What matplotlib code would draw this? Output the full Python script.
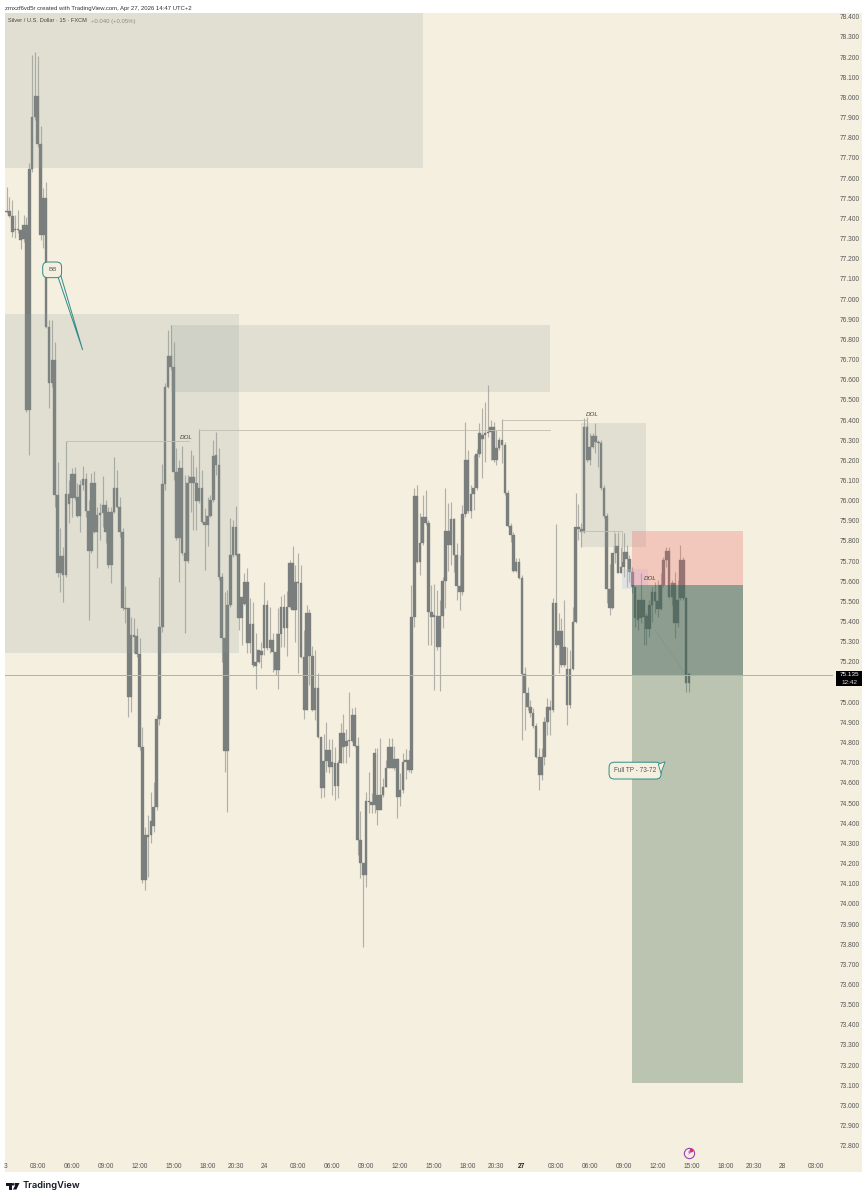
#!/usr/bin/env python3

import matplotlib
matplotlib.use("Agg")
import matplotlib.pyplot as plt
import numpy as np
from matplotlib.patches import Polygon, Rectangle

W, H = 868, 1200

BG = "#f5efe0"
BODY = "#7a7e7c"
WICK = "#b0b0a8"
THIN = "#c0bdb0"

# one value per 15 minute bar
wick_high = [
    77.557, 77.504, 77.491, 77.417, 77.442, 77.342, 77.417, 77.409, 77.673, 78.210, 78.227, 78.205,
    77.858, 77.550, 77.582, 76.896, 76.896, 76.789, 76.194, 75.863, 75.772, 76.296, 76.103, 76.161,
    76.169, 76.086, 76.103, 76.172, 76.136, 76.004, 76.136, 76.149, 75.970, 75.987, 76.122, 76.004,
    75.970, 75.970, 76.215, 76.152, 76.020, 75.863, 75.579, 75.466, 75.425, 75.417, 75.367, 75.317,
    74.879, 74.382, 74.441, 74.555, 74.605, 74.937, 75.622, 76.182, 76.582, 76.847, 76.871, 76.789,
    76.260, 76.202, 76.271, 76.128, 76.128, 76.251, 76.227, 76.169, 76.354, 76.152, 75.962, 76.020,
    76.028, 76.301, 76.339, 76.260, 75.640, 75.549, 75.557, 75.913, 75.904, 75.974, 75.739, 75.516,
    75.640, 75.665, 75.516, 75.499, 75.342, 75.260, 75.301, 75.598, 75.508, 75.475, 75.342, 75.342,
    75.466, 75.527, 75.537, 75.554, 75.706, 75.777, 75.681, 75.739, 75.681, 75.359, 75.483, 75.461,
    75.279, 75.260, 75.147, 74.830, 74.843, 74.904, 74.817, 74.817, 74.780, 74.714, 74.896, 74.942,
    74.866, 75.050, 74.970, 74.975, 74.830, 74.461, 74.202, 74.557, 74.656, 74.549, 74.772, 74.772,
    74.822, 74.623, 74.714, 74.822, 74.822, 74.784, 74.722, 74.648, 74.747, 74.767, 74.764, 75.582,
    76.061, 76.078, 75.937, 76.028, 76.053, 75.904, 75.582, 75.587, 75.557, 75.508, 75.623, 76.061,
    75.987, 75.995, 75.913, 75.789, 75.731, 75.979, 76.392, 76.251, 76.078, 76.227, 76.255, 76.384,
    76.458, 76.491, 76.574, 76.400, 76.392, 76.351, 76.318, 76.404, 76.293, 76.053, 75.888, 75.846,
    75.714, 75.714, 75.632, 75.177, 75.078, 75.012, 74.970, 74.896, 74.772, 74.772, 74.929, 75.020,
    75.012, 75.516, 75.884, 75.441, 75.417, 75.508, 75.276, 75.260, 75.475, 76.036, 75.984, 75.888,
    76.410, 76.417, 76.334, 76.334, 76.384, 76.301, 76.301, 76.078, 75.937, 75.684, 75.739, 75.838,
    75.846, 75.772, 75.838, 75.780, 75.731, 75.673, 75.574, 75.508, 75.640, 75.508, 75.441, 75.508,
    75.574, 75.598, 75.607, 75.640, 75.723, 75.772, 75.772, 75.607, 75.648, 75.607, 75.780, 75.723,
    75.524, 75.144,
]
body_top = [
    77.437, 77.437, 77.412, 77.349, 77.349, 77.342, 77.366, 77.366, 77.643, 77.901, 78.007, 78.007,
    77.769, 77.500, 77.500, 76.863, 76.698, 76.698, 76.028, 75.727, 75.727, 76.033, 76.033, 76.133,
    76.133, 76.017, 76.078, 76.106, 76.106, 75.950, 76.086, 76.086, 75.929, 75.937, 75.979, 75.979,
    75.946, 75.946, 76.061, 76.061, 75.970, 75.846, 75.466, 75.466, 75.334, 75.334, 75.329, 75.238,
    74.777, 74.342, 74.342, 74.412, 74.481, 74.917, 75.374, 76.083, 76.566, 76.718, 76.718, 76.661,
    76.144, 76.161, 76.161, 75.739, 76.086, 76.116, 76.116, 76.086, 76.065, 76.065, 75.896, 75.924,
    76.004, 76.223, 76.227, 76.177, 75.623, 75.317, 75.483, 75.731, 75.868, 75.868, 75.736, 75.520,
    75.595, 75.595, 75.389, 75.389, 75.202, 75.260, 75.256, 75.483, 75.483, 75.309, 75.309, 75.251,
    75.337, 75.471, 75.471, 75.471, 75.693, 75.693, 75.598, 75.598, 75.590, 75.223, 75.445, 75.445,
    75.232, 75.073, 75.073, 74.827, 74.709, 74.764, 74.764, 74.706, 74.698, 74.698, 74.850, 74.850,
    74.810, 74.813, 74.937, 74.937, 74.784, 74.317, 74.202, 74.511, 74.511, 74.504, 74.747, 74.541,
    74.541, 74.582, 74.676, 74.777, 74.777, 74.719, 74.719, 74.565, 74.703, 74.714, 74.714, 75.425,
    76.023, 76.023, 75.789, 75.921, 75.921, 75.888, 75.446, 75.433, 75.430, 75.430, 75.602, 75.850,
    75.850, 75.908, 75.908, 75.731, 75.577, 75.932, 76.202, 76.202, 76.032, 76.061, 76.232, 76.334,
    76.326, 76.334, 76.342, 76.364, 76.364, 76.260, 76.301, 76.301, 76.276, 76.036, 75.875, 75.830,
    75.694, 75.694, 75.618, 75.141, 75.045, 74.975, 74.946, 74.884, 74.731, 74.731, 74.901, 74.975,
    74.975, 75.491, 75.491, 75.355, 75.355, 75.276, 75.165, 75.165, 75.400, 75.871, 75.871, 75.860,
    76.367, 76.367, 76.268, 76.321, 76.321, 76.293, 76.288, 76.061, 75.924, 75.561, 75.739, 75.775,
    75.775, 75.673, 75.747, 75.747, 75.709, 75.648, 75.574, 75.508, 75.508, 75.508, 75.428, 75.483,
    75.549, 75.549, 75.504, 75.582, 75.706, 75.751, 75.751, 75.590, 75.590, 75.508, 75.706, 75.706,
    75.516, 75.141,
]
body_bottom = [
    77.432, 77.412, 77.334, 77.344, 77.342, 77.293, 77.296, 76.450, 76.450, 77.643, 77.901, 77.769,
    77.318, 77.318, 76.863, 76.582, 76.582, 76.028, 75.640, 75.640, 75.631, 75.631, 75.984, 76.012,
    76.012, 75.924, 75.924, 76.078, 75.950, 75.752, 75.752, 75.846, 75.846, 75.929, 75.937, 75.846,
    75.681, 75.681, 75.946, 75.970, 75.846, 75.466, 75.461, 75.028, 75.028, 75.326, 75.238, 74.777,
    74.119, 74.119, 74.332, 74.342, 74.387, 74.481, 74.917, 75.374, 76.083, 76.566, 76.661, 76.144,
    75.817, 75.817, 75.739, 75.703, 75.703, 76.086, 76.086, 76.000, 76.000, 75.896, 75.880, 75.880,
    75.924, 76.004, 76.177, 75.623, 75.317, 74.760, 74.760, 75.483, 75.731, 75.731, 75.417, 75.417,
    75.486, 75.296, 75.296, 75.183, 75.180, 75.202, 75.235, 75.268, 75.268, 75.268, 75.251, 75.160,
    75.160, 75.337, 75.370, 75.370, 75.474, 75.458, 75.458, 75.590, 75.223, 74.962, 74.962, 75.232,
    74.962, 74.962, 74.827, 74.574, 74.574, 74.709, 74.681, 74.681, 74.585, 74.585, 74.701, 74.780,
    74.784, 74.810, 74.810, 74.784, 74.317, 74.202, 74.141, 74.141, 74.504, 74.491, 74.491, 74.466,
    74.466, 74.541, 74.582, 74.676, 74.676, 74.676, 74.529, 74.529, 74.565, 74.703, 74.665, 74.665,
    75.425, 75.698, 75.698, 75.789, 75.888, 75.446, 75.422, 75.422, 75.276, 75.276, 75.430, 75.602,
    75.780, 75.780, 75.731, 75.577, 75.546, 75.546, 75.932, 75.949, 75.949, 76.032, 76.061, 76.232,
    76.304, 76.326, 76.334, 76.342, 76.202, 76.202, 76.260, 76.276, 76.036, 75.875, 75.830, 75.653,
    75.653, 75.618, 75.141, 75.045, 74.975, 74.946, 74.884, 74.731, 74.640, 74.640, 74.731, 74.901,
    74.962, 74.962, 75.284, 75.284, 75.185, 75.185, 74.987, 74.987, 75.165, 75.400, 75.860, 75.843,
    75.846, 76.202, 76.202, 76.268, 76.293, 76.288, 76.061, 75.924, 75.561, 75.466, 75.466, 75.739,
    75.643, 75.643, 75.673, 75.709, 75.648, 75.574, 75.417, 75.408, 75.417, 75.425, 75.364, 75.364,
    75.483, 75.504, 75.461, 75.461, 75.582, 75.706, 75.524, 75.524, 75.395, 75.395, 75.516, 75.516,
    75.094, 75.094,
]
wick_low = [
    77.425, 77.409, 77.309, 77.301, 77.326, 77.246, 77.285, 76.441, 76.227, 77.632, 77.888, 77.756,
    77.293, 77.252, 76.855, 76.458, 76.566, 75.970, 75.623, 75.549, 75.499, 75.623, 75.888, 75.921,
    76.004, 75.918, 75.846, 76.053, 75.921, 75.408, 75.739, 75.838, 75.665, 75.805, 75.871, 75.788,
    75.665, 75.594, 75.937, 75.962, 75.822, 75.458, 75.391, 74.929, 74.954, 75.243, 75.226, 74.764,
    74.103, 74.070, 74.134, 74.303, 74.357, 74.466, 74.888, 75.351, 76.053, 76.557, 76.648, 76.103,
    75.805, 75.598, 75.731, 75.342, 75.689, 75.946, 75.855, 75.855, 75.987, 75.891, 75.656, 75.775,
    75.921, 75.995, 76.128, 75.607, 75.202, 74.656, 74.458, 75.475, 75.722, 75.726, 75.359, 75.284,
    75.483, 75.243, 75.243, 75.177, 75.065, 75.194, 75.169, 75.235, 75.260, 75.243, 75.152, 75.136,
    75.065, 75.276, 75.276, 75.230, 75.466, 75.458, 75.301, 75.144, 75.218, 74.916, 74.962, 75.086,
    74.955, 74.912, 74.822, 74.524, 74.532, 74.656, 74.648, 74.541, 74.516, 74.524, 74.698, 74.698,
    74.698, 74.731, 74.805, 74.780, 74.243, 74.127, 73.788, 74.086, 74.450, 74.450, 74.450, 74.392,
    74.466, 74.532, 74.578, 74.673, 74.676, 74.665, 74.425, 74.483, 74.549, 74.620, 74.656, 74.648,
    75.375, 75.689, 75.632, 75.780, 75.880, 75.284, 75.284, 75.061, 75.260, 75.058, 75.367, 75.466,
    75.651, 75.681, 75.648, 75.508, 75.458, 75.532, 75.921, 75.937, 75.913, 75.954, 76.053, 76.218,
    76.111, 76.194, 76.318, 76.202, 76.194, 76.177, 76.251, 76.185, 76.028, 75.868, 75.794, 75.648,
    75.648, 75.610, 74.813, 74.863, 74.962, 74.929, 74.871, 74.722, 74.565, 74.615, 74.689, 74.838,
    74.838, 74.954, 75.276, 75.144, 75.177, 75.177, 74.888, 74.970, 75.160, 75.391, 75.805, 75.772,
    75.838, 76.194, 76.177, 76.260, 76.235, 76.169, 76.053, 75.913, 75.491, 75.433, 75.461, 75.689,
    75.640, 75.640, 75.623, 75.574, 75.598, 75.541, 75.375, 75.359, 75.392, 75.284, 75.284, 75.326,
    75.400, 75.441, 75.425, 75.458, 75.574, 75.673, 75.516, 75.483, 75.317, 75.375, 75.508, 75.508,
    75.053, 75.053,
]

price_ticks = [72.8 + 0.1 * i for i in range(57)]
time_pos = [-0.5, 11, 23, 35, 47, 59, 71, 81, 91, 103, 115, 127, 139, 151, 163, 173, 182, 194, 206, 218, 230, 242, 254, 264, 274, 286]
time_labels = ["3", "03:00", "06:00", "09:00", "12:00", "15:00", "18:00", "20:30", "24", "03:00", "06:00", "09:00", "12:00", "15:00",
               "18:00", "20:30", "27", "03:00", "06:00", "09:00", "12:00", "15:00", "18:00", "20:30", "28", "03:00"]

last_price = 75.135
entry = 75.58
stop = 75.85
target = 73.11

# x0, x1 in bars, y0, y1 in price
grey_zones = [
    (-0.72, 147.1, 77.65, 78.42),
    (-0.72, 82.1, 75.244, 76.925),
    (58.1, 191.9, 76.54, 76.87),
    (202.9, 225.8, 75.77, 76.385),
]
position_x0 = 220.9
position_x1 = 260.1

# start bar, end bar, price
dol_lines = [
    (21.0, 64.5, 76.296),
    (68.0, 192.0, 76.352),
    (175.0, 205.0, 76.40),
    (203.0, 217.4, 75.85),
]
dol_labels = [(63.5, 76.315), (207.0, 76.425), (227.3, 75.615)]


def fig_rect(x0, y0, x1, y1, **kw):
    fig.add_artist(Rectangle((x0 / W, 1 - y1 / H), (x1 - x0) / W, (y1 - y0) / H,
                             transform=fig.transFigure, linewidth=0, **kw))


plt.rcParams["font.family"] = ["Liberation Sans", "DejaVu Sans"]

fig = plt.figure(figsize=(W / 100, H / 100), dpi=100, facecolor="white")
fig_rect(4.5, 13, 862, 1172, facecolor=BG, zorder=0)

ax = fig.add_axes([4.5 / W, 1 - 1172 / H, (833 - 4.5) / W, (1172 - 13) / H], zorder=1)
ax.patch.set_alpha(0)
ax.set_xlim(-0.724, 291.9)
ax.set_ylim(72.670, 78.419)
for s in ax.spines.values():
    s.set_visible(False)

bars = np.arange(len(body_top))
ax.vlines(bars, wick_low, wick_high, color=WICK, linewidth=0.85, zorder=2)
ax.bar(bars, np.array(body_top) - np.array(body_bottom), bottom=body_bottom, width=0.92,
       color=BODY, edgecolor=BODY, linewidth=0.25, zorder=3)

for x0, x1, y0, y1 in grey_zones:
    ax.add_patch(Rectangle((x0, y0), x1 - x0, y1 - y0, facecolor="#8c9a9a", alpha=0.19, linewidth=0, zorder=4))

ax.add_patch(Rectangle((position_x0, entry), position_x1 - position_x0, stop - entry,
                       facecolor="#f15754", alpha=0.25, linewidth=0, zorder=4))
ax.add_patch(Rectangle((position_x0, target), position_x1 - position_x0, entry - target,
                       facecolor="#305c40", alpha=0.29, linewidth=0, zorder=4))
ax.add_patch(Rectangle((position_x0, last_price), position_x1 - position_x0, entry - last_price,
                       facecolor="#425f58", alpha=0.38, linewidth=0, zorder=4))
ax.add_patch(Rectangle((221.0, entry), 5.6, 0.08, facecolor="#c9a8e0", alpha=0.25, linewidth=0, zorder=4))
ax.add_patch(Rectangle((217.5, entry - 0.02), 3.4, 0.10, facecolor="#b8c4e8", alpha=0.3, linewidth=0, zorder=4))

ax.axhline(last_price, color="#b8b09d", linewidth=0.7, zorder=5)

for x0, x1, price in dol_lines:
    ax.plot([x0, x1], [price, price], color=THIN, linewidth=0.6, zorder=5)
ax.plot([214.5, 214.5], [75.85, 75.74], color=THIN, linewidth=0.6, zorder=5)
ax.plot([217.4, 217.4], [75.85, 75.70], color=THIN, linewidth=0.6, zorder=5)
ax.plot([229.0, 239.6], [75.358, 75.145], color="#667a70", alpha=0.6, linewidth=0.5, linestyle=":", zorder=5)
for x, y in dol_labels:
    ax.text(x, y, "DOL", fontsize=4.5, style="italic", color="#444444", ha="center", va="center", zorder=6)

# callouts
ax.add_patch(Polygon([[17.7, 77.13], [18.9, 77.13], [26.9, 76.747]], closed=True,
                     facecolor="#f5efe0", edgecolor="#2f8b87", linewidth=0.7, zorder=6))
ax.text(16.1, 77.145, "BB", fontsize=4.5, color="#555555", ha="center", va="center", zorder=7,
        bbox=dict(boxstyle="round,pad=0.85,rounding_size=0.8", facecolor="#f5efe0", edgecolor="#2f8b87", linewidth=0.7))
ax.text(222.0, 74.661, "Full TP - 73-72", fontsize=4.7, color="#555555", ha="center", va="center", zorder=7,
        bbox=dict(boxstyle="round,pad=0.75,rounding_size=0.8", facecolor="#f5efe0", edgecolor="#2f8b87", linewidth=0.7))
ax.add_patch(Polygon([[230.2, 74.693], [232.6, 74.705], [231.1, 74.648]], closed=True,
                     facecolor="#f5efe0", edgecolor="#2f8b87", linewidth=0.6, zorder=8))

# bolt icon above the time labels
ax.plot([241.0], [72.766], marker="o", markersize=7.4, markerfacecolor="none", markeredgecolor="#9c3fb5",
        markeredgewidth=0.8, zorder=6)
ax.plot([241.9], [72.78], marker="o", markersize=1.7, color="#e0344a", zorder=7)
ax.text(241.0, 72.766, "\u26a1", fontsize=5, color="#9c3fb5", ha="center", va="center", family="DejaVu Sans", zorder=7)

ax.yaxis.tick_right()
ax.set_yticks(price_ticks)
ax.set_yticklabels([f"{p:.3f}" for p in price_ticks])
ax.tick_params(axis="y", length=0, pad=4.5, labelsize=4.8, labelcolor="#555555")
ax.set_xticks(time_pos)
ax.set_xticklabels(time_labels)
ax.tick_params(axis="x", length=0, pad=-6.6, labelsize=4.8, labelcolor="#555555")
for lab, txt in zip(ax.get_xticklabels(), time_labels):
    if txt == "27":
        lab.set_fontweight("bold")
        lab.set_color("#222222")

# last price tag
fig_rect(836, 671, 862, 686, facecolor="black", zorder=5)
fig.text(849 / W, 1 - 675 / H, "75.135", color="white", fontsize=4.6, ha="center", va="center", zorder=6)
fig.text(849 / W, 1 - 682 / H, "12:42", color="#dddddd", fontsize=4.6, ha="center", va="center", zorder=6)

# header and legend
fig.text(5 / W, 1 - 8.3 / H, "zmxzf6vd5r created with TradingView.com, Apr 27, 2026 14:47 UTC+2",
         fontsize=4.3, color="#333333", va="center")
fig.text(8.5 / W, 1 - 21 / H, "Silver / U.S. Dollar \u00b7 15 \u00b7 FXCM", fontsize=4.05, color="#444444", va="center", zorder=6)
fig.text(91 / W, 1 - 21 / H, "+0.040 (+0.05%)", fontsize=4.3, color="#8c8c86", va="center", zorder=6)

# TradingView footer mark
logo = [
    [(6, 1183), (11.5, 1183), (11.5, 1189.5), (8.5, 1189.5), (8.5, 1185.6), (6, 1185.6)],
    [(14.5, 1183), (19.5, 1183), (16.4, 1189.5), (12.8, 1189.5), (15.2, 1185.6), (14.5, 1185.6)],
]
for pts in logo:
    fig.add_artist(Polygon([(x / W, 1 - y / H) for x, y in pts], closed=True, transform=fig.transFigure,
                           facecolor="#131722", linewidth=0))
fig.add_artist(plt.Circle((13 / W, 1 - 1184.3 / H), 0.0012, transform=fig.transFigure, facecolor="#131722", linewidth=0))
fig.text(23 / W, 1 - 1186 / H, "TradingView", fontsize=6.7, fontweight="semibold", family=["Inter", "DejaVu Sans"],
         color="#131722", va="center")

fig.savefig("out.png", dpi=100, facecolor="white")
